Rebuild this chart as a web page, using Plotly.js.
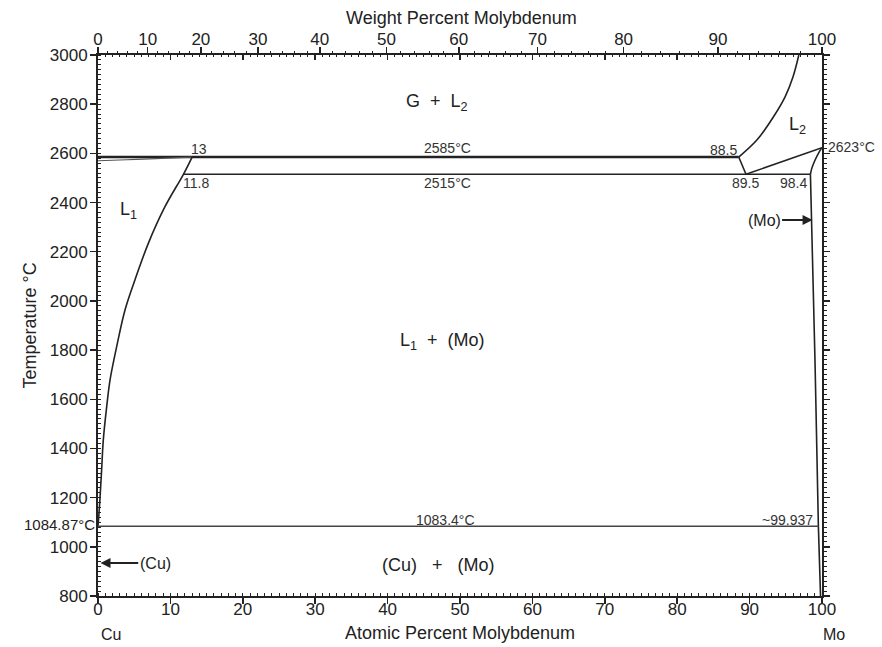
<!DOCTYPE html>
<html>
<head>
<meta charset="utf-8">
<script src="https://cdn.plot.ly/plotly-3.0.1.min.js"></script>
<style>html,body{margin:0;padding:0;background:#fff;}#chart{width:882px;height:647px;}</style>
</head>
<body>
<div id="chart"></div>
<script>
// ---- Data (atomic % Mo vs temperature °C) ----
const monotecticX = [0, 88.5];
const monotecticT = [2585, 2585];
const gasL1X = [0, 4, 8, 13];
const gasL1T = [2570, 2574, 2579, 2585];
const liquidus1X = [0, 0.1, 0.28, 0.5, 0.73, 1.2, 1.66, 2.58, 3.73, 5.1, 6.95, 9.25, 11.8, 13];
const liquidus1T = [1084.87, 1120, 1200, 1312, 1434, 1570, 1678, 1814, 1963, 2085, 2234, 2383, 2515, 2585];
const liquidus2X = [88.5, 91.0, 93.3, 94.9, 96.0, 96.8];
const liquidus2T = [2585, 2654, 2749, 2830, 2912, 3000];
const l2LinkX = [88.5, 89.5];
const l2LinkT = [2585, 2515];
const l2SolidusX = [89.5, 100];
const l2SolidusT = [2515, 2623];
const moSolidusX = [100, 99.6, 99.0, 98.6, 98.4];
const moSolidusT = [2623, 2605, 2570, 2540, 2515];
const moSolvusX = [98.4, 99.03, 99.5, 99.8];
const moSolvusT = [2515, 1760, 1083.4, 800];
const peritecticX = [11.8, 98.4];
const peritecticT = [2515, 2515];
const eutecticX = [0, 99.5];
const eutecticT = [1083.4, 1083.4];

// Top axis: weight percent labels
const wtLabels = [0, 10, 20, 30, 40, 50, 60, 70, 80, 90, 100];
const wtMinor = [2,4,6,8,12,14,16,18,22,24,26,28,32,34,36,38,42,44,46,48,52,54,56,58,62,64,66,68,72,74,76,78,82,84,86,88,92,94,96,98];
const M_CU = 63.546, M_MO = 95.95;
function wtToAt(w) {
  const a = w / M_MO, b = (100 - w) / M_CU;
  return 100 * a / (a + b);
}

const ink = '#222';
const font = 'Liberation Sans, Arial, sans-serif';

function line(x, y, w, c, smooth) {
  return {x: x, y: y, type: 'scatter', mode: 'lines',
    line: {color: c || ink, width: w || 1.5, shape: smooth ? 'spline' : 'linear', smoothing: 1},
    hoverinfo: 'skip', showlegend: false};
}

const traces = [
  line(monotecticX, monotecticT, 2.6),
  line(gasL1X, gasL1T, 1.2, '#555', true),
  line(liquidus1X, liquidus1T, 1.6, ink, true),
  line(liquidus2X, liquidus2T, 1.6, ink, true),
  line(l2LinkX, l2LinkT, 1.6),
  line(l2SolidusX, l2SolidusT, 1.6),
  line(moSolidusX, moSolidusT, 1.6, ink, true),
  line(moSolvusX, moSolvusT, 1.6, ink, true),
  line(peritecticX, peritecticT, 1.6),
  line(eutecticX, eutecticT, 1.4, '#444'),
  {x: [0, 100], y: [800, 800], xaxis: 'x2', yaxis: 'y', mode: 'none', type: 'scatter', hoverinfo: 'skip', showlegend: false},
  {x: [0, 100], y: [800, 800], xaxis: 'x3', yaxis: 'y2', mode: 'none', type: 'scatter', hoverinfo: 'skip', showlegend: false}
];

const phaseFont = {family: font, size: 18, color: ink};
const smallFont = {family: font, size: 14, color: '#333'};
function txt(x, y, t, f, extra) {
  return Object.assign({x: x, y: y, xref: 'x', yref: 'y', text: t, showarrow: false, font: f || smallFont}, extra || {});
}

const annotations = [
  txt(46.8, 2805, 'G  +  L<sub>2</sub>', phaseFont),
  txt(96.6, 2712, 'L<sub>2</sub>', phaseFont),
  txt(4.2, 2368, 'L<sub>1</sub>', phaseFont),
  txt(47.6, 1835, 'L<sub>1</sub>  +  (Mo)', phaseFont),
  txt(47.0, 928, '(Cu)   +   (Mo)', phaseFont),
  txt(13.9, 2618, '13'),
  txt(48.3, 2620, '2585°C'),
  txt(86.4, 2614, '88.5'),
  txt(13.6, 2480, '11.8'),
  txt(48.3, 2480, '2515°C'),
  txt(89.4, 2480, '89.5'),
  txt(96.0, 2480, '98.4'),
  txt(48.0, 1109, '1083.4°C'),
  txt(95.3, 1109, '~99.937'),
  {x: 1.006, y: 2626, xref: 'paper', yref: 'y', text: '2623°C', showarrow: false, xanchor: 'left', font: smallFont},
  {x: -0.001, y: 1090, xref: 'paper', yref: 'y', text: '1084.87°C', showarrow: false, xanchor: 'right', font: {family: font, size: 15, color: ink}},
  {x: 0.35, y: 934, xref: 'x', yref: 'y', ax: 7.9, ay: 934, axref: 'x', ayref: 'y', text: '(Cu)', showarrow: true, arrowhead: 2, arrowsize: 1, arrowwidth: 2, arrowcolor: ink, font: {family: font, size: 16, color: ink}},
  {x: 98.7, y: 2329, xref: 'x', yref: 'y', ax: 92.0, ay: 2329, axref: 'x', ayref: 'y', text: '(Mo)', showarrow: true, arrowhead: 2, arrowsize: 1, arrowwidth: 2, arrowcolor: ink, font: {family: font, size: 16, color: ink}},
  {x: 0.018, y: -0.072, xref: 'paper', yref: 'paper', text: 'Cu', showarrow: false, xanchor: 'center', yanchor: 'middle', font: {family: font, size: 16, color: ink}},
  {x: 1.017, y: -0.072, xref: 'paper', yref: 'paper', text: 'Mo', showarrow: false, xanchor: 'center', yanchor: 'middle', font: {family: font, size: 16, color: ink}},
  {x: 0.5027, y: 1.0684, xref: 'paper', yref: 'paper', text: 'Weight Percent Molybdenum', showarrow: false, xanchor: 'center', yanchor: 'middle', font: {family: font, size: 18, color: ink}}
];

const tickFont = {family: font, size: 17, color: ink};
const layout = {
  width: 882, height: 647,
  margin: {l: 98, r: 60, t: 55, b: 51},
  paper_bgcolor: '#fff', plot_bgcolor: '#fff',
  showlegend: false,
  font: {family: font, color: ink},
  xaxis: {
    range: [0, 100], dtick: 10, tick0: 0, ticks: 'outside', ticklen: 6, tickwidth: 1.5, tickcolor: ink,
    showline: true, linewidth: 2, linecolor: ink, showgrid: false, zeroline: false,
    minor: {dtick: 1, ticks: 'inside', ticklen: 3, tickwidth: 1, tickcolor: ink},
    tickfont: tickFont, ticklabelstandoff: -9,
    title: {text: 'Atomic Percent Molybdenum', font: {family: font, size: 18, color: ink}, standoff: 8}
  },
  xaxis2: {
    overlaying: 'x', side: 'top', range: [0, 100], anchor: 'y',
    tickmode: 'array', tickvals: wtLabels.map(wtToAt), ticktext: wtLabels.map(String),
    ticks: 'outside', ticklen: 6, tickwidth: 1.5, tickcolor: ink,
    minor: {tickmode: 'array', tickvals: wtMinor.map(wtToAt), ticks: 'outside', ticklen: 2, tickwidth: 1, tickcolor: ink},
    showline: true, linewidth: 2, linecolor: ink, showgrid: false, zeroline: false,
    tickfont: tickFont, ticklabelstandoff: -5
  },
  xaxis3: {
    overlaying: 'x', side: 'top', range: [0, 100], anchor: 'y2', dtick: 10,
    ticks: 'inside', ticklen: 5, tickwidth: 1.5, tickcolor: ink, showticklabels: false,
    minor: {dtick: 1, ticks: 'inside', ticklen: 2, tickwidth: 1, tickcolor: ink},
    showline: false, showgrid: false, zeroline: false
  },
  yaxis: {
    range: [800, 3000], dtick: 200, tick0: 0, ticks: 'outside', ticklen: 6, tickwidth: 1.5, tickcolor: ink,
    showline: true, linewidth: 2, linecolor: ink, showgrid: false, zeroline: false,
    minor: {dtick: 20, ticks: 'inside', ticklen: 3, tickwidth: 1, tickcolor: ink},
    tickfont: tickFont, ticklabelstandoff: -1,
    title: {text: 'Temperature °C', font: {family: font, size: 18, color: ink}, standoff: 8}
  },
  yaxis2: {
    overlaying: 'y', side: 'right', range: [800, 3000], dtick: 200, tick0: 0, anchor: 'x',
    ticks: 'outside', ticklen: 6, tickwidth: 1.5, tickcolor: ink, showticklabels: false,
    minor: {dtick: 20, ticks: 'outside', ticklen: 3, tickwidth: 1, tickcolor: ink},
    showline: true, linewidth: 2, linecolor: ink, showgrid: false, zeroline: false
  },
  annotations: annotations
};

Plotly.newPlot('chart', traces, layout, {staticPlot: true, displayModeBar: false});
</script>
</body>
</html>
